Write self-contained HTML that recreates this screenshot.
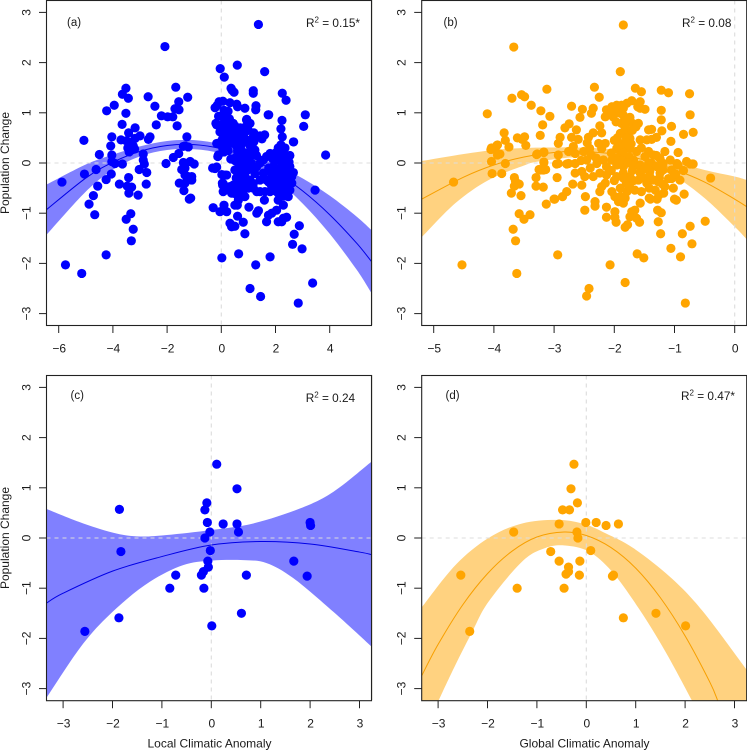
<!DOCTYPE html>
<html lang="en">
<head>
<meta charset="utf-8">
<title>Population change vs climatic anomaly</title>
<style>
html,body{margin:0;padding:0;background:#fff;overflow:hidden;}
body{width:747px;height:751px;}
svg{display:block;}
text{font-family:"Liberation Sans",Arial,sans-serif;fill:#1a1a1a;}
</style>
</head>
<body>
<svg id="chart" xmlns="http://www.w3.org/2000/svg" width="747" height="751" viewBox="0 0 747 751">
<line x1="372.5" x2="372.5" y1="0" y2="325" stroke="#e8e8e4" stroke-width="1"></line>
<line x1="372.5" x2="372.5" y1="375" y2="700" stroke="#e8e8e4" stroke-width="1"></line>
</svg>
<script>
// ---------- tick labels ----------
const yTicks = [-3,-2,-1,0,1,2,3];
const xTicksA = [-6,-4,-2,0,2,4];
const xTicksB = [-5,-4,-3,-2,-1,0];
const xTicksC = [-3,-2,-1,0,1,2,3];
const xTicksD = [-3,-2,-1,0,1,2,3];

// ---------- scatter values [anomaly, population change] ----------
const pointsA = [
[-3.52,1.49],[-3.65,1.37],[-3.43,1.29],[-3.95,1.15],[-4.23,1.04],[-3.52,.99],[-3.66,.77],[-3.18,.70],[-3.42,.60],[-5.07,.45],[-4.04,.52],[-3.70,.46],[-3.0,.54],[-3.18,.49],[-2.63,.52],[-2.69,.47],[-4.08,.34],[-4.5,.17],[-3.38,.36],[-3.45,.3],[-3.25,.34],[-3.3,.42],[-3.5,.44],[-3.2,.28],[-3.4,.22],[-4.04,.16],[-4.04,.03],[-3.92,-.01],[-3.65,-.02],[-2.88,.18],[-2.88,.06],[-2.84,-.02],[-3.03,-.13],[-2.75,-.19],[-5.05,-.22],[-4.62,-.13],[-5.88,-.38],[-4.25,-.33],[-4.06,-.22],[-4.56,-.46],[-4.72,-.65],[-4.88,-.82],[-4.67,-1.03],[-3.76,-.42],[-3.42,-.29],[-3.47,-.46],[-3.31,-.48],[-3.41,-.6],[-3.07,-.64],[-2.77,-.42],[-3.34,-1.01],[-3.51,-1.12],[-3.25,-1.32],[-3.32,-1.55],[-5.75,-2.03],[-5.15,-2.2],[-4.25,-1.83],[-2.08,2.32],
[-1.68,1.51],[-1.24,1.31],[-1.57,1.22],[-2.7,1.32],[-2.45,1.13],[-1.71,1.08],[-1.56,1.06],[-2.21,.94],[-1.98,.92],[-1.79,.92],[-2.4,.76],[-1.63,.74],[-1.27,.52],[-1.34,.34],[-1.22,.32],[-1.4,.33],[-1.57,.19],[-1.77,.11],[-2.04,-.01],[-1.4,.01],[-1.15,.03],[-1.0,-.02],[-1.46,-.13],[-1.34,-.1],[-1.34,-.24],[-1.09,-.27],[-1.22,-.27],[-1.55,-.4],[-1.34,-.4],[-1.38,-.55],[-1.13,-.7],[-1.18,-.72],[-1.09,-.34],
[-.04,1.88],[.59,1.95],[.11,1.71],[1.6,1.82],[1.37,2.76],[.36,1.49],[.47,1.41],[.4,1.45],[1.18,1.44],[1.18,1.39],[2.25,1.39],[2.39,1.25],[1.28,1.14],[1.27,1.06],[1.75,.96],[3.1,.96],[3.04,.73],[2.24,.85],[2.2,.68],[2.25,.52],[2.67,.42],[3.85,.16],
[-.23,1.1],[-.08,1.22],[.06,1.23],[-.15,1.15],[.32,1.2],[.57,1.17],[.87,1.09],[.6,1.12],[.1,1.05],[.25,1.03],[-.1,.93],[.15,.93],[.3,.88],[-.2,.79],[0,.75],[-.05,.62],[.25,.8],[.5,.74],[.4,.65],[.6,.58],[.3,.52],[.94,.87],[1.06,.79],[1.0,.65],[.85,.6],[1.2,.6],[1.6,.56],[1.5,.48],[.95,.45],[1.2,.42],[.75,.38],[1.05,.35],
[-.17,.76],[.07,.52],[-.17,.39],[-.11,.16],[-.23,-.11],[-.32,-.1],[-.17,-.08],[-.13,.13],[2.66,.42],[2.53,.15],[2.2,.36],[1.73,.96],[1.43,.54],[.93,.86],[1.18,.52],[1.24,.26],[.93,.46],[.69,.46],[.44,.79],[.44,.62],[.2,.72],[.32,.52],[.57,.33],[.44,.39],[.2,.39],[.05,.3],[.1,.22],
[1.67,.13],[1.8,.19],[1.55,.06],[1.43,0],[1.06,.13],[.93,0],[.69,0],[2.04,.06],[2.29,.19],[2.41,.13],[2.66,-.19],[2.6,-.27],[1.61,-.32],[1.67,-.34],[2.23,0],[2.35,0],[1.92,-.07],[2.1,-.14],[2.29,-.2],[2.41,-.11],[2.53,-.07],[2.47,-.2],[.2,-.24],[.07,-.41],[.5,-.14],[.63,-.27],[.87,-.24],[1.06,-.34],[1.24,-.21],[1.43,-.34],[1.18,-.41],[.93,-.44],[.69,-.47],[.44,-.44],[2.29,-.41],[2.1,-.44],[1.86,-.47],[2.41,-.47],[.02,-.23],[.14,-.24],[.04,-.4],[.11,-.55],[2.2,.25],[2.0,.2],[2.35,.3],[2.1,.3],[1.3,.15],[.8,.2],[.95,.2],[1.1,.0],[.55,.12],[.75,-.1],[1.0,-.13],[1.3,-.08],[2.15,-.28],[2.3,-.3],[1.95,-.28],[1.85,-.2],[2.45,-.3],[2.05,-.35],[.8,-.35],
[.05,-.44],[.07,-.57],[-.3,-.89],[-.05,-.97],[.1,-.84],[.2,-.97],[.32,-1.2],[.38,-1.27],[.5,-1.26],[.81,-1.18],[.87,-1.41],[.6,-1.06],[1.02,-.88],[1.31,-1.0],[1.37,-.95],[.87,-.67],[.59,-.84],[.5,-.84],[.69,-.64],[.44,-.6],[1.31,-.57],[1.61,-.57],[1.59,-.74],[1.8,-.57],[2.04,-.57],[2.1,-.74],[2.29,-.84],[2.04,-.94],[1.86,-1.0],[1.74,-1.04],[1.67,-1.17],[2.1,-1.17],[2.29,-1.1],[2.41,-1.08],[2.23,-1.17],[2.47,-.67],[2.53,-.54],[2.6,-.4],[3.46,-.54],[2.88,-1.25],[2.69,-1.42],[2.63,-1.62],[2.98,-1.71],[.02,-1.89],[.64,-1.81],[1.27,-2.03],[1.8,-1.87],[3.37,-2.39],[1.06,-2.5],[1.45,-2.66],[2.84,-2.79],[.32,-.47],[.5,-.5],[.38,-.6],[.57,-.63],[.63,-.74],[1.18,-.5],[1.43,-.57],[2.1,-.6],[2.31,-.66],[2.2,-.55],
[.6,.25],[.75,.25],[.5,.05],[.35,.08],[.85,.08],[1.15,.24],[.65,-.05],[.8,-.2],[.55,-.3],[.95,-.08],[1.15,-.12],[1.0,-.5],[.85,-.52],[.65,-.37],[1.55,-.2],[1.75,-.1],[1.9,.08],[2.15,.12],[1.95,-.45],[2.2,-.1],[2.5,.02],[2.35,-.55],[1.75,-.38],[2.45,-.6],[.55,.47],[.7,.7],[.15,.62],[.1,.8],[.02,.45],[.25,.25],[.9,.72],[.72,.55]
];
const pointsB = [
[-3.12,1.47],[-3.7,1.29],[-3.54,1.36],[-3.49,1.32],[-3.38,1.15],[-4.11,.98],[-3.22,1.04],[-3.07,.93],[-3.19,.76],[-3.23,.55],[-3.83,.6],[-3.81,.45],[-3.75,.32],[-3.61,.5],[-3.49,.52],[-3.53,.47],[-3.47,.35],[-3.94,.36],[-4.05,.27],[-3.98,.27],[-3.9,.18],[-3.94,.16],[-4.04,.03],[-3.81,-.01],[-4.03,-.21],[-3.87,-.21],[-4.67,-.38],[-3.28,.18],[-3.17,.22],[-3.17,.02],[-3.25,-.13],[-3.15,-.13],[-3.3,-.29],[-3.3,-.46],[-3.18,-.48],[-3.66,-.29],[-3.64,-.37],[-3.58,-.42],[-3.66,-.46],[-3.71,-.6],[-3.55,-.65],[-3.13,-.82],[-3.0,-.72],[-3.58,-1.01],[-3.5,-1.12],[-3.4,-1.03],[-3.68,-1.32],[-3.64,-1.55],[-4.53,-2.03],[-3.62,-2.2],[-2.94,-1.83],[-2.07,-2.03],[-1.82,-2.38],[-2.42,-2.5],[-2.46,-2.65],[-.82,-2.79],[-1.62,-1.81],[-1.51,-1.89],[-.9,-1.87],[-1.06,-1.7],[-.71,-1.61],[-.87,-1.41],[-1.23,-1.41],[-.74,-1.26],[-.49,-1.16],[-1.27,-1.17],[-1.22,-.99],[-1.28,-.94],[-.4,-.3],[-3.67,2.31],[-1.85,2.75],[-1.9,1.82],
[-2.33,1.51],[-2.25,1.31],[-1.65,1.49],[-1.55,1.42],[-1.22,1.45],[-1.1,1.4],[-.75,1.38],[-2.71,1.13],[-2.53,1.07],[-2.35,1.09],[-2.38,.99],[-2.57,.91],[-1.71,1.24],[-1.57,1.22],[-1.79,1.19],[-1.88,1.15],[-1.96,1.15],[-2.04,1.12],[-2.13,1.06],[-2.15,.92],[-2.04,1.02],[-1.95,1.07],[-1.85,1.09],[-1.57,1.09],[-1.49,1.07],[-1.61,1.12],[-1.22,1.05],[-.74,.96],[-1.22,.86],[-1.21,.64],[-1.05,.73],[-.85,.57],[-.69,.61],[-1.06,.43],[-1.16,.23],[-.94,.21],[-.8,.03],[-.7,-.02],[-2.75,.78],[-2.82,.7],[-2.63,.66],[-2.24,.74],[-2.21,.6],[-2.35,.6],[-2.43,.51],[-2.6,.47],[-2.71,.51],[-2.9,.51],[-2.93,.39],[-1.74,.91],[-2.02,.92],[-1.97,.82],[-1.9,.99],[-1.88,.79],[-1.71,.8],[-1.6,.79],[-1.64,.72],[-1.43,.66],[-1.38,.67],[-1.77,.62],[-1.9,.59],[-1.74,.49],[-1.57,.46],[-1.46,.46],[-1.38,.47],[-1.3,.51],[-2.26,.39],[-2.15,.39],[-2.21,.29],[-1.9,.39],[-1.96,.29],[-1.85,.32],[-1.9,.16],[-1.74,.29],[-1.63,.23],[-2.68,.33],[-2.76,.23],[-2.65,.19],[-2.51,.23],[-2.41,.29],[-2.38,.16],[-2.93,.16],[-2.93,-.01],[-2.76,-.01],[-2.65,-.01],[-2.46,.06],[-1.43,.23],[-1.35,.16],[-1.38,-.01],[-1.19,-.01],[-1.49,.13],[-1.24,.09],[-1.07,.06],[-.96,-.01],[-2.18,.06],[-2.04,.06],[-1.85,-.01],[-1.68,.06],[-1.57,-.04],[-2.29,-.01],[-1.8,.5],[-1.95,.5],[-1.85,.2],[-1.95,.1],[-1.75,.12],[-2.0,.45],[-1.82,.7],[-1.7,.65],
[-3.18,-.14],[-2.96,-.02],[-2.79,-.02],[-2.65,-.2],[-2.54,-.17],[-2.49,-.27],[-2.35,-.27],[-2.24,-.2],[-2.13,-.07],[-1.96,-.04],[-1.85,-.07],[-1.68,-.07],[-1.57,-.07],[-1.43,0],[-1.3,-.07],[-1.19,-.14],[-1.05,-.14],[-.94,-.04],[-.74,-.02],[-.69,-.02],[-2.95,-.29],[-2.69,-.42],[-2.54,-.44],[-2.79,-.57],[-2.86,-.67],[-2.99,-.72],[-2.48,-.67],[-2.49,-.94],[-2.32,-.77],[-2.32,-.86],[-2.13,-.88],[-2.13,-1.08],[-1.99,-.97],[-1.99,-1.08],[-1.97,-1.18],[-2.24,-.57],[-2.15,-.4],[-2.21,-.47],[-2.04,-.57],[-1.9,-.5],[-1.8,-.4],[-1.99,-.67],[-1.93,-.77],[-1.85,-.8],[-1.82,-.7],[-1.9,-.67],[-1.79,-.57],[-1.66,-.54],[-1.55,-.57],[-1.42,-.7],[-1.29,-.72],[-1.0,-.72],[-.84,-.62],[-1.32,-.54],[-1.16,-.47],[-1.02,-.5],[-1.6,-.34],[-1.35,-.34],[-1.1,-.31],[-.91,-.34],[-1.46,-.4],[-1.27,-.37],[-1.57,-.8],[-1.66,-.94],[-1.71,-.97],[-1.58,-1.18],[-1.78,-1.23],[-1.82,-1.28],[-1.74,-1.07],[-1.63,-1.1],[-1.85,-.2],[-1.74,-.27],[-1.57,-.2],[-1.41,-.17],[-1.24,-.2],[-1.41,-.27],[-1.05,-.31],[-1.96,-.27],[-2.13,-.24],[-3.29,.17],[-3.17,.21],[-3.17,.01],[-3.23,-.14],[-3.14,-.13],[-4.04,.3],[-3.95,.35],[-1.18,-.6],[-1.26,-.64],[-1.4,-.72],[-.97,-.74],
[-1.85,.95],[-1.8,.85],[-1.8,.4],[-1.72,.38],[-1.88,.05],[-1.78,.0],[-1.7,-.15],[-1.5,-.12],[-1.3,.15],[-1.55,.3],[-1.75,-.45],[-1.68,-.35],[-1.42,-.5],[-1.2,-.42],[-1.5,-.3],[-2.05,.2],[-2.3,.1],[-2.55,.05],[-2.4,-.1],[-2.05,-.15],[-2.0,-.35],[-1.85,-.3],[-1.25,-.3],[-.98,-.22],[-.85,-.15],[-2.45,.4]
];
const pointsC = [
[.11,1.47],[.52,.98],[-.09,.7],[-.13,.56],[-1.86,.57],[-.08,.31],[.24,.28],[.52,.28],[.55,.12],[-.03,.12],[-.13,0],[2.0,.31],[2.01,.25],[-1.83,-.27],[-.02,-.25],[-.07,-.46],[-.06,-.58],[1.67,-.46],[-.16,-.67],[-.2,-.74],[-.72,-.74],[.71,-.74],[1.94,-.76],[-.84,-1],[-.15,-1],[.61,-1.5],[-1.87,-1.59],[-2.56,-1.86],[.01,-1.75]
];
const pointsD = [
[-.25,1.47],[-.31,.98],[-.18,.7],[-.48,.56],[-.34,.56],[-.55,.28],[-.01,.31],[.2,.31],[.4,.25],[.65,.28],[-1.47,.12],[-.19,.12],[-.17,0],[-.72,-.27],[.09,-.25],[-.55,-.46],[-.13,-.46],[-.36,-.58],[-.36,-.67],[-.41,-.72],[-.14,-.74],[-2.54,-.74],[.55,-.74],[.53,-.76],[-1.4,-1],[-.45,-1],[.75,-1.59],[1.41,-1.5],[2.01,-1.75],[-2.36,-1.86]
];

// ---------- fitted curves and confidence limits [anomaly, value] ----------
const fitA = [[-6.45,-.93],[-5,-.3],[-4,.016],[-3,.231],[-2,.348],[-1,.365],[0,.283],[1,.102],[2,-.178],[3,-.556],[4,-1.03],[5,-1.6],[5.55,-1.97]];
const upperA = [[-6.45,-.43],[-5,-.03],[-4,.166],[-3,.331],[-2,.438],[-1,.455],[0,.373],[1,.202],[2,-.038],[3,-.306],[4,-.65],[5,-1.07],[5.55,-1.34]];
const lowerA = [[-6.45,-1.43],[-5,-.57],[-4,-.134],[-3,.131],[-2,.258],[-1,.275],[0,.193],[1,.002],[2,-.318],[3,-.806],[4,-1.41],[5,-2.13],[5.55,-2.6]];
const fitB = [[-5.2,-.72],[-4.5,-.28],[-4,-.04],[-3.5,.12],[-3,.21],[-2.6,.23],[-2,.18],[-1.5,.06],[-1,-.13],[-.5,-.38],[0,-.72],[.2,-.87]];
const upperB = [[-5.2,.04],[-4.5,.18],[-4,.26],[-3.5,.3],[-3,.31],[-2.6,.31],[-2,.27],[-1.5,.17],[-1,.03],[-.5,-.14],[0,-.27],[.2,-.34]];
const lowerB = [[-5.2,-1.48],[-4.64,-.8],[-4.09,-.34],[-3.5,-.05],[-3.26,.03],[-2.6,.12],[-2,.08],[-1.5,-.05],[-1,-.27],[-.5,-.7],[0,-1.27],[.2,-1.52]];
const fitC = [[-3.34,-1.3],[-3,-1.1],[-2,-.66],[-1,-.37],[0,-.14],[1,-.07],[2,-.12],[3,-.28],[3.24,-.33]];
const upperC = [[-3.34,.58],[-2.59,.29],[-1.92,.09],[-1.44,.03],[-.9,.06],[0,.16],[.85,.29],[1.8,.59],[2.47,.92],[3.24,1.52]];
const lowerC = [[-3.34,-3.19],[-2.59,-2.1],[-1.92,-1.4],[-1.24,-.87],[-.57,-.54],[0,-.45],[.65,-.44],[1.12,-.5],[1.66,-.8],[2.47,-1.47],[3.24,-2.16]];
const fitD = [[-3.33,-2.74],[-3,-2.12],[-2.5,-1.33],[-2,-.71],[-1.5,-.26],[-1,.02],[-.45,.12],[0,.05],[.5,-.19],[1,-.6],[1.5,-1.19],[2,-1.95],[2.5,-2.87],[2.66,-3.24]];
const upperD = [[-3.33,-1.38],[-2.65,-.54],[-1.98,0],[-1.3,.29],[-.56,.36],[-.02,.27],[.4,.09],[.95,-.2],[1.7,-.78],[2.35,-1.45],[3.25,-2.63]];
const lowerD = [[-3.33,-3.3],[-3.0,-3.3],[-2.99,-3.24],[-2.65,-2.53],[-2.31,-1.87],[-1.98,-1.27],[-1.3,-.47],[-.83,-.2],[-.43,-.15],[.05,-.27],[.52,-.67],[1.06,-1.4],[1.6,-2.26],[2.14,-3.24],[2.16,-3.3],[3.25,-3.3]];

// ---------- colours ----------
const blueColors = {dot:'#0000ff',band:'#8080ff',line:'#0000e6'};
const orangeColors = {dot:'#ffa500',band:'#ffd280',line:'#f79f00'};

const svg = document.getElementById('chart');
const NS = 'http://www.w3.org/2000/svg';
function make(tag, parent, attrs){
  const el = document.createElementNS(NS, tag);
  for(const k in attrs){ el.setAttribute(k, attrs[k]); }
  parent.appendChild(el);
  return el;
}
function minus(v){ return v < 0 ? '\u2212' + Math.abs(v) : String(v); }
function smooth(pts){
  let d = '';
  for(let i = 0; i < pts.length - 1; i++){
    const p0 = pts[Math.max(i-1,0)], p1 = pts[i], p2 = pts[i+1], p3 = pts[Math.min(i+2,pts.length-1)];
    const c1x = p1[0] + (p2[0]-p0[0])/6, c1y = p1[1] + (p2[1]-p0[1])/6;
    const c2x = p2[0] - (p3[0]-p1[0])/6, c2y = p2[1] - (p3[1]-p1[1])/6;
    d += ' C' + c1x.toFixed(2) + ' ' + c1y.toFixed(2) + ' ' + c2x.toFixed(2) + ' ' + c2y.toFixed(2) + ' ' + p2[0].toFixed(2) + ' ' + p2[1].toFixed(2);
  }
  return d;
}
function drawPanel(cfg){
  const g = make('g', svg, {});
  
  
  const xScale = v => cfg.x0 + v * cfg.xUnit;
  const yScale = v => cfg.y0 - v * 50.2;
  const L = cfg.left, R = cfg.left + 325, T = cfg.top, B = cfg.bottom;

  const clip = make('clipPath', g, {id:'clip-' + cfg.id});
  make('rect', clip, {x:L, y:T, width:R-L, height:B-T});
  const plot = make('g', g, {'clip-path':'url(#clip-' + cfg.id + ')'});

  const up = cfg.upper.map(p => [xScale(p[0]), yScale(p[1])]);
  const lo = cfg.lower.map(p => [xScale(p[0]), yScale(p[1])]).reverse();
  const band = make('path', plot, {
    d:'M' + up[0][0].toFixed(2) + ' ' + up[0][1].toFixed(2) + smooth(up) + ' L' + lo[0][0].toFixed(2) + ' ' + lo[0][1].toFixed(2) + smooth(lo) + ' Z',
    fill:cfg.colors.band
  });
  
  

  const hz = make('line', plot, {x1:L, x2:R, y1:yScale(0), y2:yScale(0), stroke:'#dcdcdc', 'stroke-width':1.1, 'stroke-dasharray':'4 4'});
  
  
  const vt = make('line', plot, {x1:xScale(0), x2:xScale(0), y1:T, y2:B, stroke:'#dcdcdc', 'stroke-width':1.1, 'stroke-dasharray':'4 4'});
  
  

  const fp = cfg.fit.map(p => [xScale(p[0]), yScale(p[1])]);
  const fit = make('path', plot, {d:'M' + fp[0][0].toFixed(2) + ' ' + fp[0][1].toFixed(2) + smooth(fp), fill:'none', stroke:cfg.colors.line, 'stroke-width':1});
  
  

  cfg.points.forEach(p => {
    const c = make('circle', plot, {cx:xScale(p[0]).toFixed(2), cy:yScale(p[1]).toFixed(2), r:4.6, fill:cfg.colors.dot});
    
    
  });

  const box = make('rect', g, {x:L, y:T, width:R-L, height:B-T, fill:'none', stroke:'#222', 'stroke-width':1.1});
  
  

  cfg.xTicks.forEach(v => {
    const t = make('line', g, {x1:xScale(v), x2:xScale(v), y1:B, y2:B+7.5, stroke:'#222', 'stroke-width':1});
    
    
    const lb = make('text', g, {x:xScale(v)+0.5, y:B+26.8, 'text-anchor':'middle', 'font-size':12});
    
    
    lb.textContent = minus(v);
  });
  yTicks.forEach(v => {
    const t = make('line', g, {x1:L-7.5, x2:L, y1:yScale(v), y2:yScale(v), stroke:'#222', 'stroke-width':1});
    
    
    const lb = make('text', g, {x:0, y:0, transform:'translate(' + (L-16.2) + ' ' + yScale(v) + ') rotate(-90)', 'text-anchor':'middle', 'font-size':12});
    
    
    lb.textContent = minus(v);
  });

  const tag = make('text', g, {x:cfg.tagX, y:cfg.tagY, 'font-size':11.5});
  
  
  tag.textContent = cfg.tag;

  const r2 = make('text', g, {x:cfg.r2X, y:cfg.r2Y, 'font-size':11.8});
  
  
  r2.appendChild(document.createTextNode('R'));
  const sup = make('tspan', r2, {dy:-4.5, 'font-size':8});
  sup.textContent = '2';
  const rest = make('tspan', r2, {dy:4.5});
  rest.textContent = ' = ' + cfg.r2;

  if(cfg.yTitle){
    const yt = make('text', g, {x:0, y:0, transform:'translate(9 ' + cfg.yTitleY + ') rotate(-90)', 'text-anchor':'middle', 'font-size':12});
    
    
    yt.textContent = cfg.yTitle;
  }
  if(cfg.xTitle){
    const xt = make('text', g, {x:cfg.xTitleX, y:747.5, 'text-anchor':'middle', 'font-size':12});
    
    
    xt.textContent = cfg.xTitle;
  }
}
drawPanel({id:'a',left:46.5,top:0.5,bottom:325.5,x0:221.3,xUnit:27.1,y0:163,points:pointsA,fit:fitA,upper:upperA,lower:lowerA,colors:blueColors,xTicks:xTicksA,tag:'(a)',tagX:67,tagY:26,r2:'0.15*',r2X:306,r2Y:27,yTitle:'Population Change',yTitleY:163});
drawPanel({id:'b',left:421.7,top:0.5,bottom:325.5,x0:734.7,xUnit:60.2,y0:163,points:pointsB,fit:fitB,upper:upperB,lower:lowerB,colors:orangeColors,xTicks:xTicksB,tag:'(b)',tagX:443.5,tagY:26,r2:'0.08',r2X:682,r2Y:27});
drawPanel({id:'c',left:46.5,top:375.5,bottom:700.7,x0:211.3,xUnit:49.4,y0:538,points:pointsC,fit:fitC,upper:upperC,lower:lowerC,colors:blueColors,xTicks:xTicksC,tag:'(c)',tagX:70.5,tagY:399,r2:'0.24',r2X:305.7,r2Y:402,yTitle:'Population Change',yTitleY:538,xTitle:'Local Climatic Anomaly',xTitleX:209.5});
drawPanel({id:'d',left:421.7,top:375.5,bottom:700.7,x0:586.3,xUnit:49.4,y0:538,points:pointsD,fit:fitD,upper:upperD,lower:lowerD,colors:orangeColors,xTicks:xTicksD,tag:'(d)',tagX:445.5,tagY:399,r2:'0.47*',r2X:681,r2Y:400,xTitle:'Global Climatic Anomaly',xTitleX:584.5});
</script>
</body>
</html>
